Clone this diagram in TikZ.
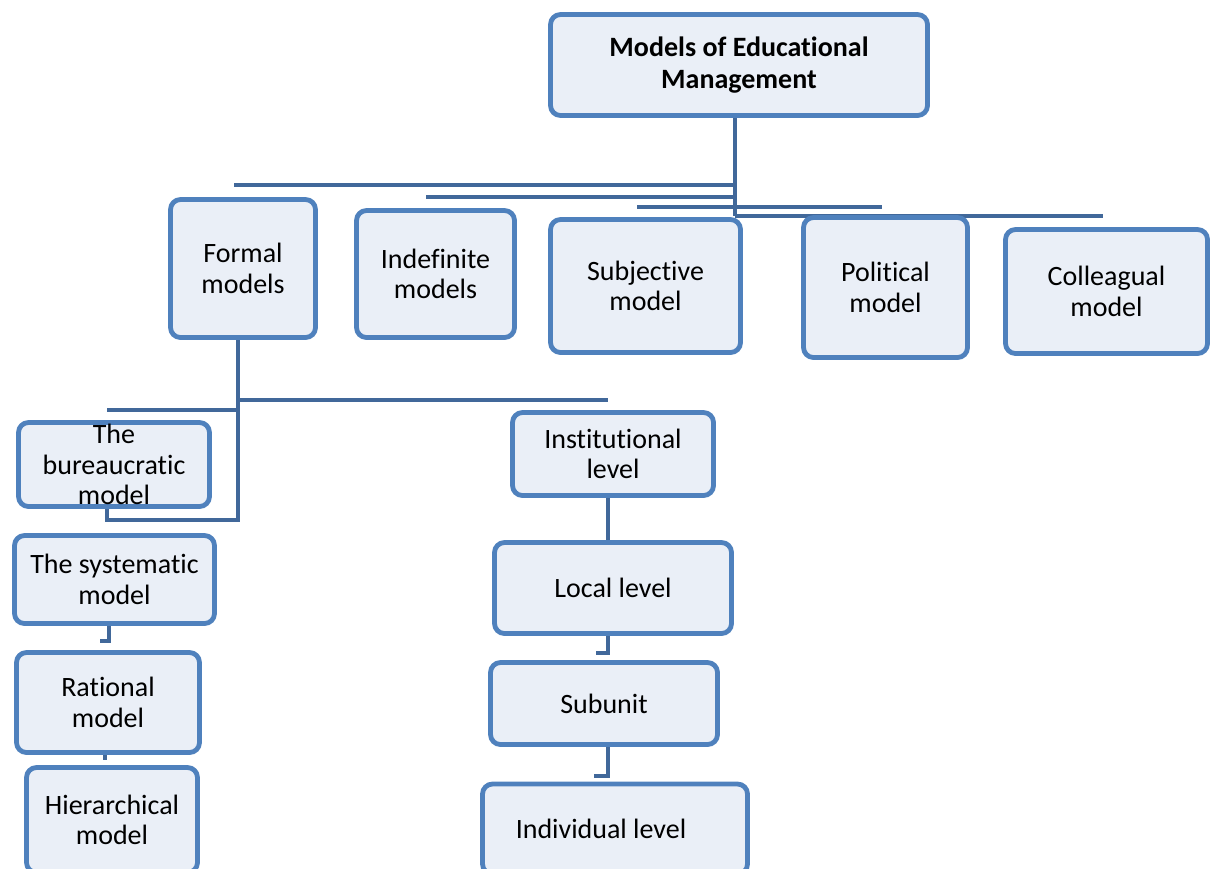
\documentclass[tikz,border=0pt]{standalone}
\usepackage{fontspec}
\setmainfont{Carlito}[Ligatures=CommonOff]
\usetikzlibrary{backgrounds}
\definecolor{boxblue}{HTML}{4F81BD}
\definecolor{boxfill}{HTML}{EAEFF7}
\definecolor{connblue}{HTML}{41689A}
\tikzset{
  mbox/.style={draw=boxblue, line width=4.8pt, rounded corners=10pt, fill=boxfill,
    align=center, inner sep=0pt, font=\fontsize{28}{30.5}\selectfont},
  conn/.style={draw=connblue, line width=4.5pt},
}
\begin{document}
\begin{tikzpicture}[x=1pt,y=-1pt]
\useasboundingbox (0,0) rectangle (1212,868);
\node[mbox, minimum width=377pt, minimum height=101pt, font=\fontsize{28}{31.5}\selectfont\bfseries] (top) at (739,65) {Models of Educational\\Management};
\node[mbox, minimum width=145pt, minimum height=138pt] (formal) at (243,268.5) {Formal\\models};
\node[mbox, minimum width=158pt, minimum height=127pt] (indef) at (435.5,274) {Indefinite\\models};
\node[mbox, minimum width=190pt, minimum height=133pt] (subj) at (645.5,286) {Subjective\\model};
\node[mbox, minimum width=164pt, minimum height=140pt] (polit) at (885.5,287.5) {Political\\model};
\node[mbox, minimum width=202pt, minimum height=124pt] (coll) at (1106.5,291.5) {Colleagual\\model};
\node[mbox, minimum width=191pt, minimum height=84pt, inner ysep=-6pt] (bureau) at (114,464.5) {The\\bureaucratic\\model};
\node[mbox, minimum width=200pt, minimum height=88pt] (syst) at (114.5,579.5) {The systematic\\model};
\node[mbox, minimum width=183pt, minimum height=100pt] (ratio) at (108,702.5) {Rational\\model};
\node[mbox, minimum width=171pt, minimum height=105pt] (hier) at (112,820) {Hierarchical\\model};
\node[mbox, minimum width=201pt, minimum height=83pt] (inst) at (613,454) {Institutional\\level};
\node[mbox, minimum width=237pt, minimum height=91pt] (local) at (613,588) {Local level};
\node[mbox, minimum width=227pt, minimum height=82pt] (subunit) at (604,703.5) {Subunit};
\node[mbox, minimum width=265pt, minimum height=90pt] (indiv) at (615,829) {\hspace*{-28pt}Individual level};

\coordinate (hub) at (735,216);
\coordinate (h1) at (234,185);
\coordinate (h2) at (426,197);
\coordinate (h3a) at (637,207);
\coordinate (h3b) at (882,207);
\coordinate (h4) at (1103,216);
\coordinate (fv) at (238,520);
\coordinate (fh1) at (608,400);
\coordinate (fh2) at (107,410);
\coordinate (sysc) at (100,641);
\coordinate (ratc) at (105,760);
\coordinate (locc) at (596,653);
\coordinate (subc) at (594,776);

\begin{pgfonlayer}{background}
\draw[conn] (top.south -| hub) -- (hub);
\draw[conn] (h1) -- (h1 -| hub);
\draw[conn] (h2) -- (h2 -| hub);
\draw[conn] (h3a) -- (h3b);
\draw[conn] (hub) -- (h4);
\draw[conn] (formal.south -| fv) -- (fv) -| (bureau.south -| fh2);
\draw[conn] (fh1 -| fv) -- (fh1);
\draw[conn] (fh2) -- (fh2 -| fv);
\draw[conn] (syst.south -| 109,0) |- (sysc);
\draw[conn] (ratio.south -| ratc) -- (ratc);
\draw[conn] (inst.south -| 608,0) -- (local.north -| 608,0);
\draw[conn] (local.south -| 608,0) |- (locc);
\draw[conn] (subunit.south -| 608,0) |- (subc);
\end{pgfonlayer}
\end{tikzpicture}
\end{document}
